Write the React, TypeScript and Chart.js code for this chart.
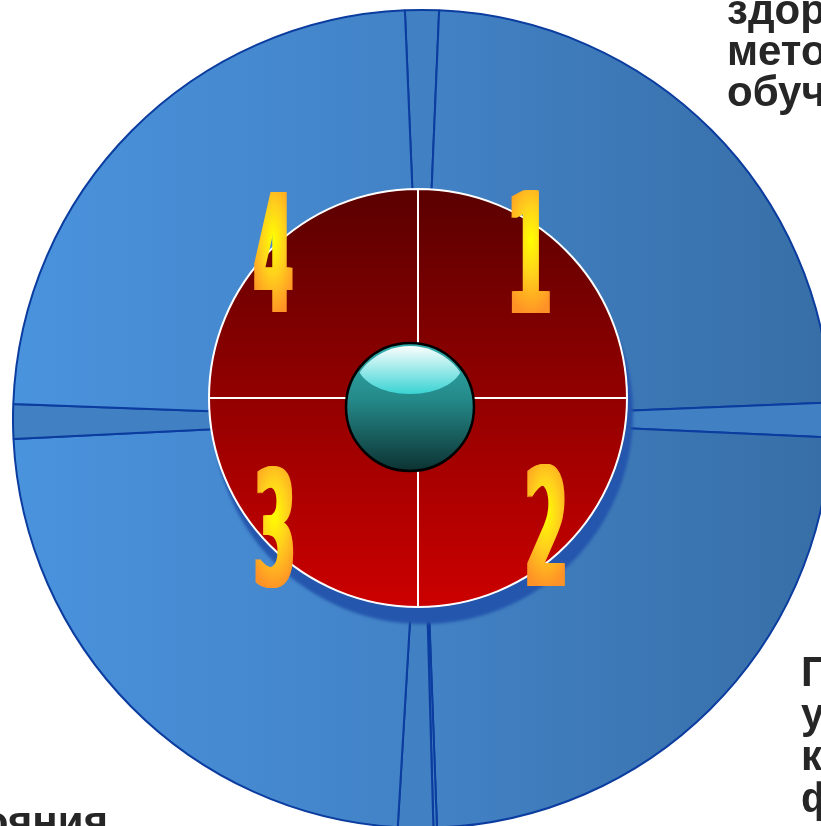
import React, { useEffect, useRef } from "react";
import { Chart, registerables } from "chart.js";

Chart.register(...registerables);

// ---- data ----
const ringNames = ["wedge-top", "sector-1", "wedge-right", "sector-2", "wedge-bottom-a", "wedge-bottom-b", "sector-3", "wedge-left", "sector-4"];
const ringDegrees = [4.8, 85.3, 4.9, 85.3, 0.5, 5.0, 83.8, 4.9, 85.5];
const ringIsWedge = [true, false, true, false, true, true, false, true, false];
const ringStartDeg = -2.4;

const pieLabels = ["1", "2", "3", "4"];
const pieValues = [25, 25, 25, 25];

const topRightLines = ["здоровьесберегающие", "методы", "обучения"];
const bottomRightLines = ["Повышение", "уровня", "культуры", "физического"];
const bottomLeftLines = ["состояния", "здоровья"];

// ---- style ----
const labelRadius = 192;
const labelNudges = [[-23, -10], [-8, -9], [-8, -7], [-9, -10]];
const digitW = 34;
const digitH = 122;
const digitBold = [-2.2, -1.1, 0, 1.1, 2.2];

function blueBg(ctx: any) {
  const chart = ctx.chart;
  const area = chart.chartArea;
  if (ctx.type === "data" && ringIsWedge[ctx.dataIndex]) return "#4180c2";
  if (!area) return "#4282c6";
  const g = chart.ctx.createLinearGradient(area.left, 0, area.right, 0);
  g.addColorStop(0, "#4a93dd");
  g.addColorStop(0.5, "#4282c6");
  g.addColorStop(1, "#376ea6");
  return g;
}

function redBg(ctx: any) {
  const chart = ctx.chart;
  const area = chart.chartArea;
  if (!area) return "#900000";
  const g = chart.ctx.createLinearGradient(0, area.top, 0, area.bottom);
  g.addColorStop(0, "#5a0000");
  g.addColorStop(1, "#cc0000");
  return g;
}

function drawDigit(c: CanvasRenderingContext2D, text: string, cx: number, cy: number) {
  c.save();
  c.font = "bold 100px 'DejaVu Sans'";
  const m = c.measureText(text);
  const L = m.actualBoundingBoxLeft, R = m.actualBoundingBoxRight;
  const A = m.actualBoundingBoxAscent, D = m.actualBoundingBoxDescent;
  const inkW = L + R, inkH = A + D;
  const sx = digitW / inkW;
  c.translate(cx, cy);
  c.scale(sx, digitH / inkH);
  const x0 = (L - R) / 2;
  const y0 = (A - D) / 2;
  const g = c.createRadialGradient(0, -0.1 * inkH, 0, 0, -0.1 * inkH, 0.62 * inkH);
  g.addColorStop(0, "#ffff00");
  g.addColorStop(0.45, "#ffd21c");
  g.addColorStop(1, "#ff9226");
  c.fillStyle = g;
  c.textAlign = "left";
  c.textBaseline = "alphabetic";
  digitBold.forEach((dx) => c.fillText(text, x0 + dx / sx, y0));
  c.restore();
}

function drawSphere(c: CanvasRenderingContext2D, x: number, y: number, r: number) {
  c.save();
  const body = c.createLinearGradient(0, y - r, 0, y + r);
  body.addColorStop(0, "#32acac");
  body.addColorStop(0.45, "#248888");
  body.addColorStop(1, "#0d3232");
  c.beginPath();
  c.arc(x, y, r, 0, Math.PI * 2);
  c.fillStyle = body;
  c.fill();
  c.lineWidth = 2.5;
  c.strokeStyle = "#000";
  c.stroke();
  c.beginPath();
  c.arc(x, y, r - 3, 0, Math.PI * 2);
  c.clip();
  const hl = c.createLinearGradient(0, y - r + 2, 0, y - 14);
  hl.addColorStop(0, "#ffffff");
  hl.addColorStop(1, "#3ed4d4");
  c.beginPath();
  c.ellipse(x, y - 44, 53, 31, 0, 0, Math.PI * 2);
  c.fillStyle = hl;
  c.fill();
  c.restore();
}

const redDecor = {
  id: "redDecor",
  beforeDatasetsDraw(chart: any) {
    const meta = chart.getDatasetMeta(0);
    const arc = meta.data[0];
    if (!arc) return;
    const c = chart.ctx as CanvasRenderingContext2D;
    c.save();
    c.filter = "blur(1.5px)";
    c.beginPath();
    c.arc(arc.x + 5, arc.y + 16, arc.outerRadius + 1, 0, Math.PI * 2);
    c.fillStyle = "#2456ad";
    c.fill();
    c.restore();
  },
  afterDatasetsDraw(chart: any) {
    const meta = chart.getDatasetMeta(0);
    const c = chart.ctx as CanvasRenderingContext2D;
    meta.data.forEach((arc: any, i: number) => {
      const mid = (arc.startAngle + arc.endAngle) / 2;
      const nx = labelNudges[i][0], ny = labelNudges[i][1];
      drawDigit(c, pieLabels[i], arc.x + Math.cos(mid) * labelRadius + nx, arc.y + Math.sin(mid) * labelRadius + ny);
    });
    const a0 = meta.data[0];
    if (a0) drawSphere(c, a0.x - 8, a0.y + 9, 64);
  },
};

const textStyle: React.CSSProperties = {
  position: "absolute",
  fontFamily: "'Liberation Sans', Arial, sans-serif",
  fontWeight: "bold",
  fontSize: 42,
  lineHeight: "41px",
  color: "#262626",
  whiteSpace: "nowrap",
};

export default function App() {
  const blueRef = useRef<HTMLCanvasElement>(null);
  const redRef = useRef<HTMLCanvasElement>(null);

  useEffect(() => {
    const blue = new Chart(blueRef.current!, {
      type: "pie",
      data: {
        labels: ringNames,
        datasets: [{
          data: ringDegrees,
          backgroundColor: blueBg as any,
          borderColor: "#0b3c9f",
          borderWidth: 2,
        }],
      },
      options: {
        responsive: false,
        animation: false,
        rotation: ringStartDeg,
        events: [],
        plugins: { legend: { display: false }, tooltip: { enabled: false } },
      },
    });
    const red = new Chart(redRef.current!, {
      type: "pie",
      data: {
        labels: pieLabels,
        datasets: [{
          data: pieValues,
          backgroundColor: redBg as any,
          borderColor: "#ffffff",
          borderWidth: 2,
        }],
      },
      options: {
        responsive: false,
        animation: false,
        events: [],
        layout: { padding: 20 },
        plugins: { legend: { display: false }, tooltip: { enabled: false } },
      },
      plugins: [redDecor],
    });
    return () => {
      blue.destroy();
      red.destroy();
    };
  }, []);

  return (
    <div style={{ position: "fixed", left: 0, top: 0, width: 821, height: 826, overflow: "hidden", background: "#fff" }}>
      <canvas ref={blueRef} width={820} height={820} style={{ position: "absolute", left: 12, top: 9, width: 820, height: 820 }} />
      <canvas ref={redRef} width={460} height={460} style={{ position: "absolute", left: 188, top: 168, width: 460, height: 460 }} />
      <div style={{ ...textStyle, left: 727, top: -11 }}>
        {topRightLines.map((l, i) => <div key={i}>{l}</div>)}
      </div>
      <div style={{ ...textStyle, left: 801, top: 651, lineHeight: "42px" }}>
        {bottomRightLines.map((l, i) => <div key={i}>{l}</div>)}
      </div>
      <div style={{ ...textStyle, right: 713, top: 801, lineHeight: "42px", textAlign: "right" }}>
        {bottomLeftLines.map((l, i) => <div key={i}>{l}</div>)}
      </div>
    </div>
  );
}
